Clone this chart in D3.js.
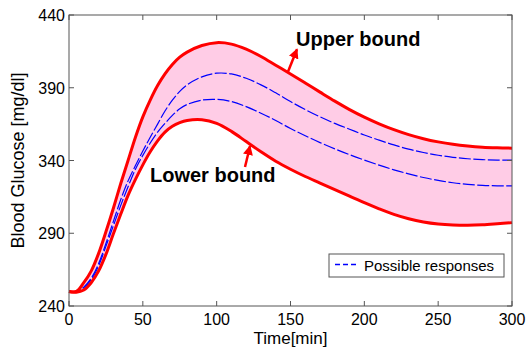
<!DOCTYPE html>
<html>
<head>
<meta charset="utf-8">
<script src="https://cdn.jsdelivr.net/npm/d3@7"></script>
<style>
  body { margin: 0; background: #fff; }
  text { font-family: "Liberation Sans", Arial, sans-serif; }
</style>
</head>
<body>
<script>
// time [min]
var times = [0, 5, 10, 15, 20, 25, 30, 35, 40, 45, 50, 55, 60, 65, 70, 75, 80, 90, 100, 110, 120, 130, 140, 150, 160, 170, 180, 190, 200, 210, 220, 230, 240, 250, 260, 270, 280, 290, 300];

var upperBound = [250, 250, 256, 264, 276, 291, 307, 324, 340, 356, 370, 381.5, 391.5, 399.5, 406, 411, 414.5, 419, 421, 420, 416.5, 411.5, 405.5, 399.5, 393.3, 387, 380.8, 375, 369.8, 365.2, 361.2, 357.8, 355, 352.8, 351.1, 349.9, 349.1, 348.7, 348.5];
var lowerBound = [250, 249.5, 251, 256, 264, 275.5, 289.5, 303, 316, 327, 337, 346, 353.5, 359.5, 363.5, 366, 367.5, 368, 365.5, 360, 353, 346, 339.5, 334, 329, 324.5, 320, 315.5, 311, 306.8, 303, 300, 297.8, 296.4, 295.7, 295.5, 295.8, 296.5, 297.3];
var response1 = [250, 250, 253, 259, 269, 283, 298, 313, 326, 336.5, 346.5, 356, 365, 374, 381.5, 387.5, 392, 397.5, 400, 399.5, 396.5, 392, 386.5, 380.5, 375, 370, 365.5, 361.5, 357.5, 354, 350.7, 347.8, 345.5, 343.6, 342.2, 341.2, 340.6, 340.3, 340.2];
var response2 = [250, 250, 252.5, 258, 267.5, 281, 295, 309, 322, 334, 343.5, 352, 359.5, 365.5, 371, 375.5, 378.5, 381.5, 382, 380.5, 377, 372.5, 367.5, 362, 357, 352.3, 348, 344, 340.3, 336.8, 333.6, 330.8, 328.3, 326.3, 324.7, 323.6, 322.9, 322.6, 322.5];

var xTicks = [0, 50, 100, 150, 200, 250, 300];
var yTicks = [240, 290, 340, 390, 440];

var width = 527, height = 349;
var margin = {top: 15, right: 15, bottom: 43, left: 69};

var svg = d3.select("body").append("svg")
    .attr("width", width)
    .attr("height", height);

var x = d3.scaleLinear().domain([0, 300]).range([margin.left, width - margin.right]);
var y = d3.scaleLinear().domain([240, 440]).range([height - margin.bottom, margin.top]);

var smooth = d3.curveCatmullRom.alpha(0.5);

var band = times.map(function(t, i) { return {t: t, lo: lowerBound[i], hi: upperBound[i]}; });

var area = d3.area()
    .x(function(d) { return x(d.t); })
    .y0(function(d) { return y(d.lo); })
    .y1(function(d) { return y(d.hi); })
    .curve(smooth);

var line = d3.line()
    .x(function(d) { return x(d[0]); })
    .y(function(d) { return y(d[1]); })
    .curve(smooth);

function pairs(vals) { return times.map(function(t, i) { return [t, vals[i]]; }); }

svg.append("path")
    .datum(band)
    .attr("fill", "#ffcce6")
    .attr("d", area);

[response1, response2].forEach(function(r) {
    svg.append("path")
        .datum(pairs(r))
        .attr("fill", "none")
        .attr("stroke", "#0000ff")
        .attr("stroke-width", 1.2)
        .attr("stroke-dasharray", "12,2.5")
        .attr("d", line);
});

[upperBound, lowerBound].forEach(function(r) {
    svg.append("path")
        .datum(pairs(r))
        .attr("fill", "none")
        .attr("stroke", "#ff0000")
        .attr("stroke-width", 3)
        .attr("d", line);
});

// axes box with inward ticks (matlab style)
var axisColor = "#555";
var x0 = x.range()[0], x1 = x.range()[1], y0 = y.range()[0], y1 = y.range()[1];

svg.append("rect")
    .attr("x", x0).attr("y", y1)
    .attr("width", x1 - x0).attr("height", y0 - y1)
    .attr("fill", "none")
    .attr("stroke", axisColor)
    .attr("stroke-width", 1);

var tk = 5;
xTicks.forEach(function(v) {
    svg.append("line").attr("x1", x(v)).attr("x2", x(v)).attr("y1", y0).attr("y2", y0 - tk).attr("stroke", axisColor);
    svg.append("line").attr("x1", x(v)).attr("x2", x(v)).attr("y1", y1).attr("y2", y1 + tk).attr("stroke", axisColor);
    svg.append("text")
        .attr("x", x(v)).attr("y", y0 + 19)
        .attr("text-anchor", "middle")
        .attr("font-size", 16)
        .text(v);
});
yTicks.forEach(function(v) {
    svg.append("line").attr("x1", x0).attr("x2", x0 + tk).attr("y1", y(v)).attr("y2", y(v)).attr("stroke", axisColor);
    svg.append("line").attr("x1", x1).attr("x2", x1 - tk).attr("y1", y(v)).attr("y2", y(v)).attr("stroke", axisColor);
    svg.append("text")
        .attr("x", x0 - 4).attr("y", y(v) + 6)
        .attr("text-anchor", "end")
        .attr("font-size", 16)
        .text(v);
});

svg.append("text")
    .attr("x", (x0 + x1) / 2).attr("y", 344)
    .attr("text-anchor", "middle")
    .attr("font-size", 17)
    .text("Time[min]");

svg.append("text")
    .attr("transform", "translate(24," + ((y0 + y1) / 2) + ") rotate(-90)")
    .attr("text-anchor", "middle")
    .attr("font-size", 18)
    .text("Blood Glucose [mg/dl]");

// annotations
svg.append("defs").append("marker")
    .attr("id", "head")
    .attr("viewBox", "0 0 10 10")
    .attr("refX", 9).attr("refY", 5)
    .attr("markerWidth", 4).attr("markerHeight", 4)
    .attr("orient", "auto")
    .append("path")
    .attr("d", "M0,0L10,5L0,10z")
    .attr("fill", "#ff0000");

svg.append("line")
    .attr("x1", x(148.3)).attr("y1", y(401))
    .attr("x2", x(154.4)).attr("y2", y(416.5))
    .attr("stroke", "#ff0000").attr("stroke-width", 2.5)
    .attr("marker-end", "url(#head)");
svg.append("line")
    .attr("x1", x(119.2)).attr("y1", y(335.5))
    .attr("x2", x(122.6)).attr("y2", y(350))
    .attr("stroke", "#ff0000").attr("stroke-width", 2.5)
    .attr("marker-end", "url(#head)");

svg.append("text")
    .attr("x", 296).attr("y", 46)
    .attr("font-size", 20).attr("font-weight", "bold")
    .text("Upper bound");
svg.append("text")
    .attr("x", 150).attr("y", 182)
    .attr("font-size", 20).attr("font-weight", "bold")
    .text("Lower bound");

// legend
var lg = svg.append("g").attr("transform", "translate(329,254)");
lg.append("rect")
    .attr("width", 175).attr("height", 23)
    .attr("fill", "#fff")
    .attr("stroke", axisColor);
lg.append("line")
    .attr("x1", 6).attr("x2", 29).attr("y1", 10.5).attr("y2", 10.5)
    .attr("stroke", "#0000ff").attr("stroke-width", 1.5)
    .attr("stroke-dasharray", "5,3");
lg.append("text")
    .attr("x", 35).attr("y", 16.5)
    .attr("font-size", 15)
    .text("Possible responses");
</script>
</body>
</html>
